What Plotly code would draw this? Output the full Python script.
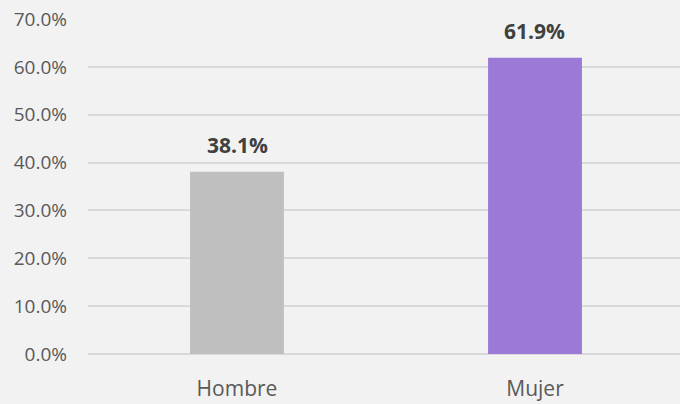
import plotly.graph_objects as go

categories = ["Hombre", "Mujer"]
values = [38.1, 61.9]
colors = ["#bfbfbf", "#9b79d6"]
y_ticks = [0, 10, 20, 30, 40, 50, 60, 70]
y_tick_labels = [f"{v:.1f}%" for v in y_ticks]

fig = go.Figure(go.Bar(
    x=categories,
    y=values,
    marker=dict(color=colors, line=dict(width=0)),
    width=0.315,
    cliponaxis=False,
))

for c, v in zip(categories, values):
    fig.add_annotation(
        x=c, y=v, text=f"<b>{v:.1f}%</b>", showarrow=False,
        yanchor="bottom", yshift=11,
        font=dict(family="Open Sans", size=21, color="#404040"),
    )

fig.update_layout(
    width=680, height=404,
    margin=dict(l=88, r=0, t=19, b=50),
    paper_bgcolor="#f2f2f2",
    plot_bgcolor="#f2f2f2",
    font=dict(family="Open Sans", size=19, color="#595959"),
    showlegend=False,
    xaxis=dict(showgrid=False, showline=False, ticks="", tickfont=dict(size=21),
               ticklabelstandoff=20, range=[-0.5, 1.4866]),
    yaxis=dict(
        range=[0, 70],
        tickvals=y_ticks,
        ticktext=y_tick_labels,
        showgrid=True, gridcolor="#d9d9d9", gridwidth=1.5,
        zeroline=True, zerolinecolor="#d9d9d9", zerolinewidth=1.5,
        showline=False, ticks="", ticklabelstandoff=20,
    ),
)

fig.write_html(
    "out.html",
    config={"displayModeBar": False},
    post_script="document.body.style.margin='0';document.body.style.padding='0';document.body.style.overflow='hidden';",
)
